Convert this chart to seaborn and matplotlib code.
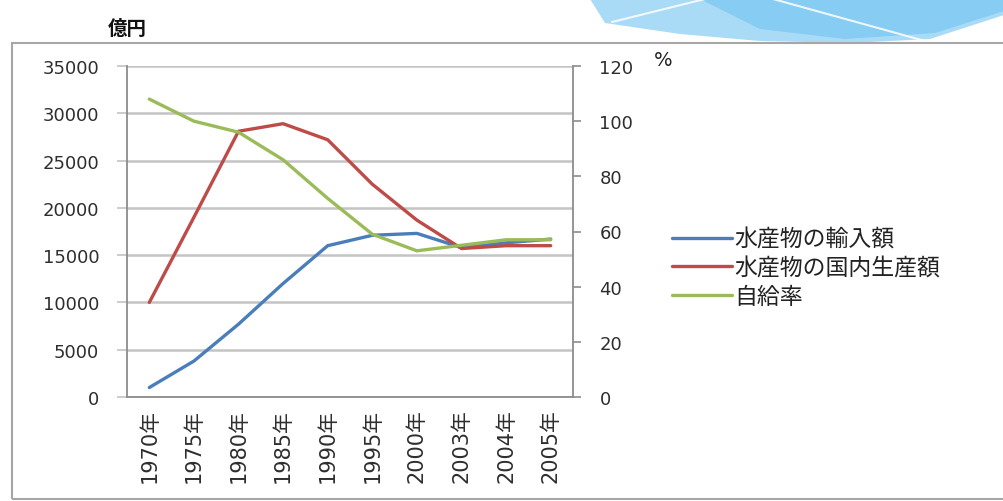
import numpy as np
import matplotlib
matplotlib.use("Agg")
import matplotlib.pyplot as plt
from matplotlib.patches import Polygon, Rectangle
from matplotlib.lines import Line2D
from matplotlib.ticker import FixedLocator, NullFormatter
import seaborn as sns

# ---- data -------------------------------------------------------------
years = ['1970年', '1975年', '1980年', '1985年', '1990年',
         '1995年', '2000年', '2003年', '2004年', '2005年']
import_value = [1000, 3800, 7700, 12000, 16000, 17100, 17300, 15800, 16300, 16700]      # 億円
domestic_value = [10000, 19000, 28100, 28900, 27200, 22500, 18700, 15700, 16000, 16000]  # 億円
self_sufficiency = [108, 100, 96, 86, 72, 59, 53, 55, 57, 57]                            # %

series_labels = ['水産物の輸入額', '水産物の国内生産額', '自給率']
left_ticks = [0, 5000, 10000, 15000, 20000, 25000, 30000, 35000]
right_ticks = [0, 20, 40, 60, 80, 100, 120]

# ---- style ------------------------------------------------------------
sns.set_style("white")
plt.rcParams['font.family'] = ['DejaVu Sans', 'Noto Sans CJK JP']

BLUE = '#4A7EBB'
RED = '#BE4B48'
GREEN = '#9BBB59'
AXIS_GRAY = '#8C8C8C'
GRID_GRAY = '#C4C4C4'
TEXT = '#2E2E2E'

W, H = 1004, 502
fig = plt.figure(figsize=(W / 100, H / 100), dpi=100)
fig.patch.set_facecolor('white')


def fx(px):
    return px / W


def fy(py):
    return 1 - py / H


# decorative header swoosh
swoosh = Polygon([(fx(590), fy(0)), (fx(1004), fy(0)), (fx(1004), fy(16)),
                  (fx(930), fy(40)), (fx(850), fy(44)), (fx(760), fy(42)),
                  (fx(680), fy(35)), (fx(605), fy(24))],
                 closed=True, transform=fig.transFigure,
                 facecolor='#A9DBF7', edgecolor='none', zorder=0)
fig.patches.append(swoosh)
swoosh2 = Polygon([(fx(700), fy(0)), (fx(1004), fy(0)),
                   (fx(1004), fy(12)), (fx(935), fy(34)), (fx(845), fy(40)),
                   (fx(760), fy(30))],
                  closed=True, transform=fig.transFigure,
                  facecolor='#86CCF3', edgecolor='none', zorder=0)
fig.patches.append(swoosh2)
for (x0, y0, x1, y1) in [(612, 23, 705, 0), (773, 0, 925, 42)]:
    fig.lines.append(Line2D([fx(x0), fx(x1)], [fy(y0), fy(y1)],
                            transform=fig.transFigure, color='white',
                            lw=1.5, alpha=0.85, zorder=1))

# chart area frame
frame = Rectangle((fx(12), fy(500)), fx(1010) - fx(12), fy(44) - fy(500),
                  transform=fig.transFigure, fill=False,
                  edgecolor='#A6A6A6', lw=1.5, zorder=2)
fig.patches.append(frame)

# ---- axes -------------------------------------------------------------
ax = fig.add_axes([fx(127), fy(398), fx(573) - fx(127), fy(67) - fy(398)])
ax.set_facecolor('none')

sns.lineplot(x=years, y=import_value, ax=ax, color=BLUE, lw=2.4, sort=False)
sns.lineplot(x=years, y=domestic_value, ax=ax, color=RED, lw=2.4, sort=False)

ax2 = ax.twinx()
sns.lineplot(x=years, y=self_sufficiency, ax=ax2, color=GREEN, lw=2.4, sort=False)

ax.set_xlim(-0.5, len(years) - 0.5)
ax.set_ylim(0, 35000)
ax2.set_ylim(0, 120)
ax.set_xlabel('')
ax.set_ylabel('')
ax2.set_ylabel('')

# category boundaries carry the tick marks, labels sit at the centres
ax.xaxis.set_major_locator(FixedLocator(np.arange(-0.5, len(years), 1.0)))
ax.xaxis.set_major_formatter(NullFormatter())
ax.set_xticks(np.arange(len(years)), minor=True)
ax.set_xticklabels(years, minor=True, rotation=90, fontsize=15, color=TEXT)
ax.tick_params(axis='x', which='major', direction='out', length=5,
               width=1.2, color=AXIS_GRAY)
ax.tick_params(axis='x', which='minor', length=0, pad=8)

ax.set_yticks(left_ticks)
ax.set_yticklabels([str(v) for v in left_ticks], fontsize=13, color=TEXT)
ax.tick_params(axis='y', direction='out', length=7, width=1.2,
               color=GRID_GRAY, pad=13, left=True)

ax2.set_yticks(right_ticks)
ax2.set_yticklabels([str(v) for v in right_ticks], fontsize=13, color=TEXT)
ax2.tick_params(axis='y', direction='out', length=6, width=1.2,
                color=AXIS_GRAY, pad=13, right=True)

ax.yaxis.grid(True, color=GRID_GRAY, lw=1.8)
ax.xaxis.grid(False)
ax2.grid(False)
ax.set_axisbelow(True)

for a in (ax, ax2):
    a.spines['top'].set_visible(False)
    for s in ('left', 'right', 'bottom'):
        a.spines[s].set_color(AXIS_GRAY)
        a.spines[s].set_linewidth(1.3)
ax.spines['right'].set_visible(False)
ax2.spines['left'].set_visible(False)
ax2.spines['bottom'].set_visible(False)

# ---- unit labels ------------------------------------------------------
fig.text(fx(108), fy(29), '億円', fontsize=14, fontweight='bold',
         color='#111111', ha='left', va='center',
         family=['Noto Sans CJK JP', 'DejaVu Sans'])
fig.text(fx(654), fy(61), '%', fontsize=14, color='#222222',
         ha='left', va='center')

# ---- legend -----------------------------------------------------------
handles = [Line2D([], [], color=BLUE, lw=2.4),
           Line2D([], [], color=RED, lw=2.4),
           Line2D([], [], color=GREEN, lw=2.4)]
fig.legend(handles, series_labels, loc='upper left',
           bbox_to_anchor=(fx(672), fy(229)), frameon=False,
           prop={'family': ['Noto Sans CJK JP', 'DejaVu Sans'], 'size': 16.5},
           labelcolor='#222222', handlelength=2.6, handletextpad=0.1,
           labelspacing=0.24, borderpad=0, borderaxespad=0)

fig.savefig('out.png', dpi=100)
